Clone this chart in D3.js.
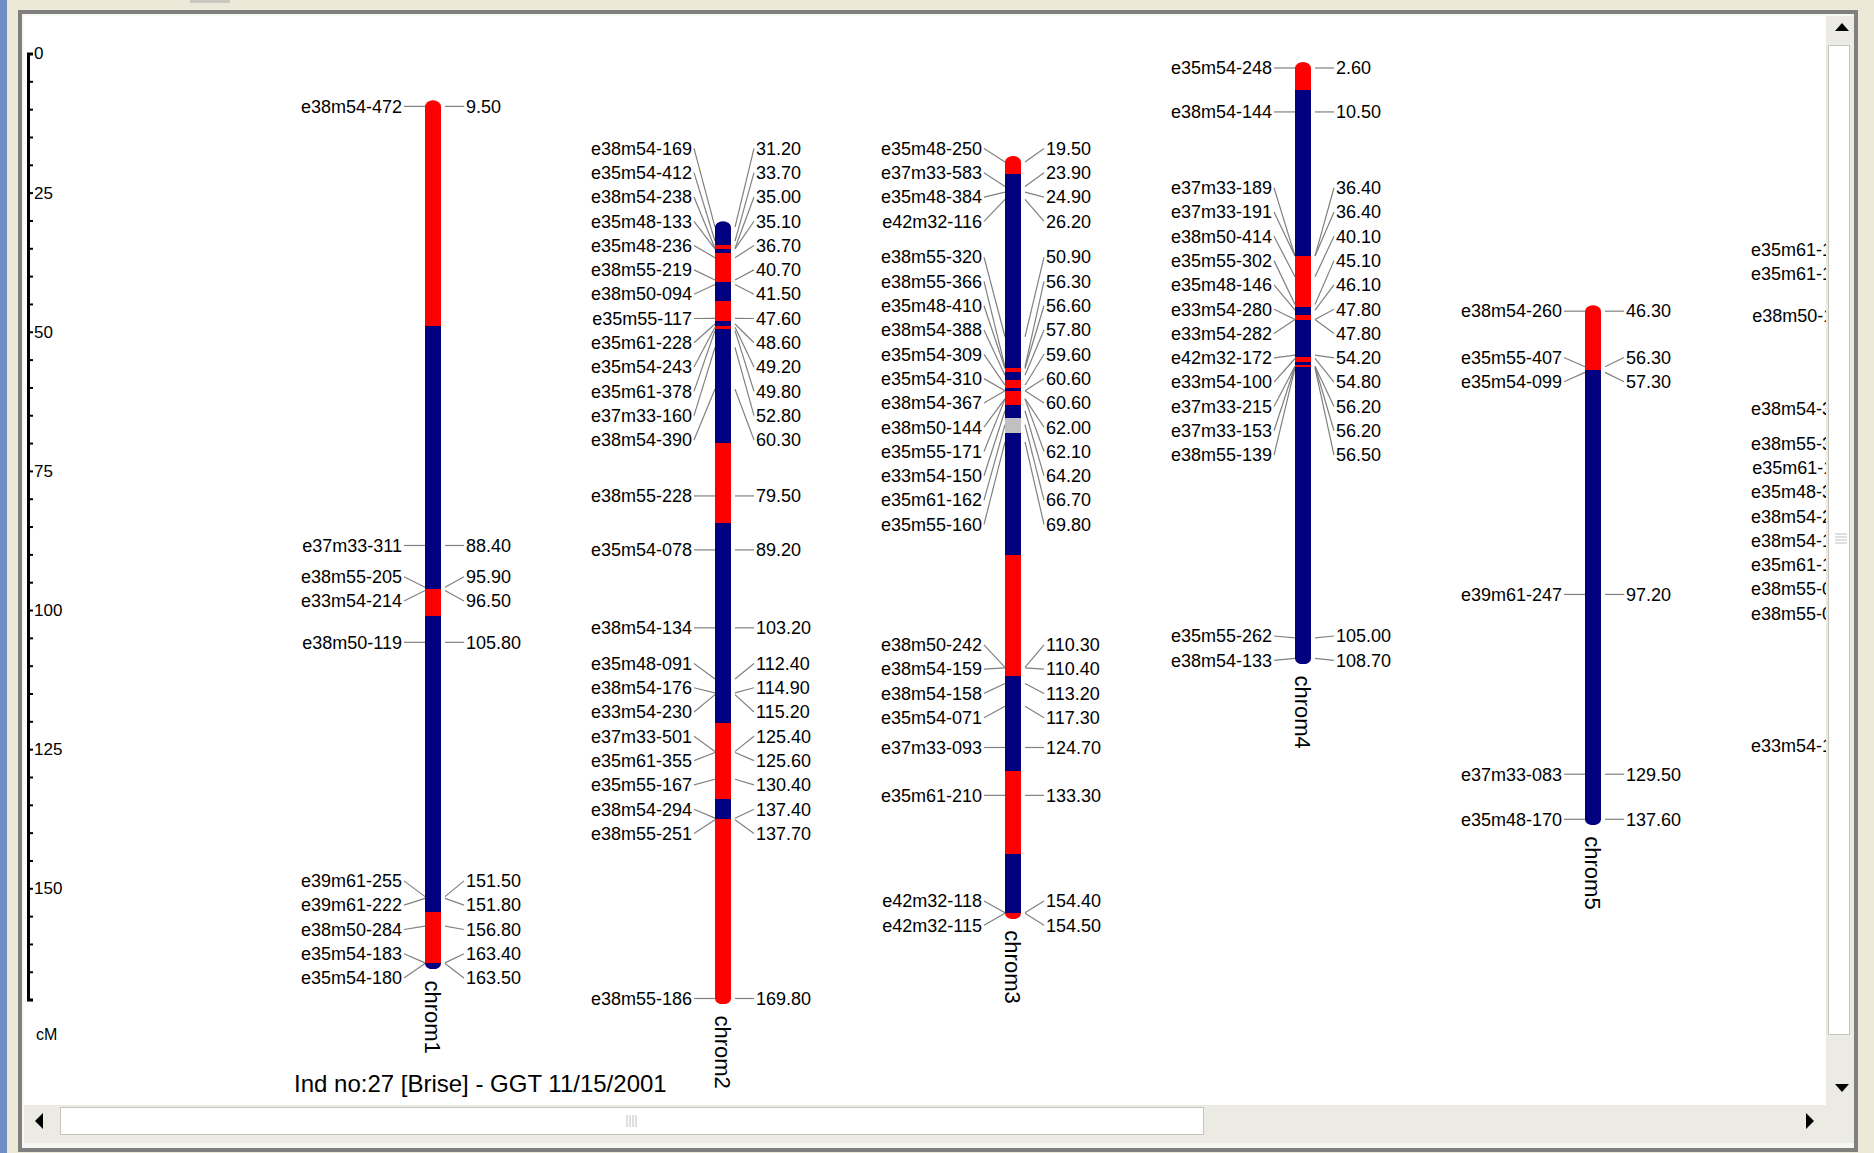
<!DOCTYPE html>
<html>
<head>
<meta charset="utf-8">
<script src="https://cdn.jsdelivr.net/npm/d3@7/dist/d3.min.js"></script>
<style>
  html, body { margin: 0; padding: 0; background: #ece9d8; }
  svg { display: block; font-family: "Liberation Sans", Arial, sans-serif; }
</style>
</head>
<body>
<svg id="chart" width="1874" height="1153"></svg>
<script>
// chromosomes shown left to right
const chromNames = ['chrom1', 'chrom2', 'chrom3', 'chrom4', 'chrom5', 'chrom6']

// marker names / positions (cM) / genotype (A = red, B = blue, - = missing)
const chrom1Names = ['e38m54-472', 'e37m33-311', 'e38m55-205', 'e33m54-214', 'e38m50-119',
  'e39m61-255', 'e39m61-222', 'e38m50-284', 'e35m54-183', 'e35m54-180']
const chrom1Pos = [9.5, 88.4, 95.9, 96.5, 105.8, 151.5, 151.8, 156.8, 163.4, 163.5]
const chrom1Geno = ['A', 'B', 'B', 'A', 'B', 'B', 'B', 'A', 'A', 'B']

const chrom2Names = ['e38m54-169', 'e35m54-412', 'e38m54-238', 'e35m48-133', 'e35m48-236',
  'e38m55-219', 'e38m50-094', 'e35m55-117', 'e35m61-228', 'e35m54-243', 'e35m61-378',
  'e37m33-160', 'e38m54-390', 'e38m55-228', 'e35m54-078', 'e38m54-134', 'e35m48-091',
  'e38m54-176', 'e33m54-230', 'e37m33-501', 'e35m61-355', 'e35m55-167', 'e38m54-294',
  'e38m55-251', 'e38m55-186']
const chrom2Pos = [31.2, 33.7, 35.0, 35.1, 36.7, 40.7, 41.5, 47.6, 48.6, 49.2, 49.8, 52.8, 60.3,
  79.5, 89.2, 103.2, 112.4, 114.9, 115.2, 125.4, 125.6, 130.4, 137.4, 137.7, 169.8]
const chrom2Geno = ['B', 'B', 'A', 'B', 'A', 'A', 'B', 'A', 'B', 'A', 'B', 'B', 'B',
  'A', 'B', 'B', 'B', 'B', 'B', 'A', 'A', 'A', 'B', 'A', 'A']

const chrom3Names = ['e35m48-250', 'e37m33-583', 'e35m48-384', 'e42m32-116', 'e38m55-320',
  'e38m55-366', 'e35m48-410', 'e38m54-388', 'e35m54-309', 'e35m54-310', 'e38m54-367',
  'e38m50-144', 'e35m55-171', 'e33m54-150', 'e35m61-162', 'e35m55-160', 'e38m50-242',
  'e38m54-159', 'e38m54-158', 'e35m54-071', 'e37m33-093', 'e35m61-210', 'e42m32-118',
  'e42m32-115']
const chrom3Pos = [19.5, 23.9, 24.9, 26.2, 50.9, 56.3, 56.6, 57.8, 59.6, 60.6, 60.6, 62.0, 62.1,
  64.2, 66.7, 69.8, 110.3, 110.4, 113.2, 117.3, 124.7, 133.3, 154.4, 154.5]
const chrom3Geno = ['A', 'B', 'B', 'B', 'B', 'B', 'A', 'B', 'A', 'B', 'A', 'A', 'A',
  'B', '-', 'B', 'A', 'A', 'B', 'B', 'B', 'A', 'B', 'A']

const chrom4Names = ['e35m54-248', 'e38m54-144', 'e37m33-189', 'e37m33-191', 'e38m50-414',
  'e35m55-302', 'e35m48-146', 'e33m54-280', 'e33m54-282', 'e42m32-172', 'e33m54-100',
  'e37m33-215', 'e37m33-153', 'e38m55-139', 'e35m55-262', 'e38m54-133']
const chrom4Pos = [2.6, 10.5, 36.4, 36.4, 40.1, 45.1, 46.1, 47.8, 47.8, 54.2, 54.8, 56.2, 56.2,
  56.5, 105.0, 108.7]
const chrom4Geno = ['A', 'B', 'B', 'A', 'A', 'A', 'B', 'A', 'B', 'B', 'A', 'B', 'A', 'B', 'B', 'B']

const chrom5Names = ['e38m54-260', 'e35m55-407', 'e35m54-099', 'e39m61-247', 'e37m33-083', 'e35m48-170']
const chrom5Pos = [46.3, 56.3, 57.3, 97.2, 129.5, 137.6]
const chrom5Geno = ['A', 'A', 'B', 'B', 'B', 'B']

// chrom6 runs off the right edge of the view, only the name column shows
const chrom6Names = ['e35m61-142', 'e35m61-165', 'e38m50-118', 'e38m54-322', 'e38m55-337',
  'e35m61-118', 'e35m48-324', 'e38m54-236', 'e38m54-127', 'e35m61-139', 'e38m55-062',
  'e38m55-065', 'e33m54-141']
const chrom6Pos = [36.8, 38.0, 47.1, 63.8, 80.6, 82.0, 83.6, 85.0, 86.2, 87.3, 88.4, 89.5, 124.4]
const chrom6Geno = ['B', 'B', 'B', 'B', 'B', 'B', 'B', 'B', 'B', 'B', 'B', 'B', 'B']

const axisTicks = d3.range(0, 171, 5)
const caption = 'Ind no:27 [Brise] - GGT 11/15/2001'

const chroms = [
  { name: chromNames[0], names: chrom1Names, pos: chrom1Pos, geno: chrom1Geno },
  { name: chromNames[1], names: chrom2Names, pos: chrom2Pos, geno: chrom2Geno },
  { name: chromNames[2], names: chrom3Names, pos: chrom3Pos, geno: chrom3Geno },
  { name: chromNames[3], names: chrom4Names, pos: chrom4Pos, geno: chrom4Geno },
  { name: chromNames[4], names: chrom5Names, pos: chrom5Pos, geno: chrom5Geno },
  { name: chromNames[5], names: chrom6Names, pos: chrom6Pos, geno: chrom6Geno }
]

const genoColor = { A: '#ff0000', B: '#000080', '-': '#c0c0c0' }

const W = 1874, H = 1153
const panel = { x0: 24, y0: 16, x1: 1826, y1: 1105 }
const svg = d3.select('#chart')

// ---- window chrome ----
svg.append('rect').attr('width', W).attr('height', H).attr('fill', '#ece9d8')
svg.append('rect').attr('x', 0).attr('y', 0).attr('width', 7).attr('height', H).attr('fill', '#6f8ec6')
svg.append('rect').attr('x', 190).attr('y', 0).attr('width', 40).attr('height', 3).attr('fill', '#c8c8c0')
svg.append('rect').attr('x', 20).attr('y', 12).attr('width', 1836).attr('height', 1138)
  .attr('fill', '#f6f6f3').attr('stroke', '#7f7f7f').attr('stroke-width', 4)
svg.append('rect').attr('x', panel.x0).attr('y', panel.y0)
  .attr('width', panel.x1 - panel.x0).attr('height', panel.y1 - panel.y0).attr('fill', '#fff')

// vertical scrollbar
const vs = svg.append('g')
vs.append('rect').attr('x', 1826).attr('y', panel.y0).attr('width', 28).attr('height', 1127).attr('fill', '#ebeae3')
vs.append('rect').attr('x', 1828.5).attr('y', 45.5).attr('width', 21).attr('height', 989)
  .attr('fill', '#fff').attr('stroke', '#c4c4bc')
vs.append('path').attr('d', 'M1835,31 L1849,31 L1842,23 Z').attr('fill', '#000')
vs.append('path').attr('d', 'M1835,1084 L1849,1084 L1842,1092 Z').attr('fill', '#000')
vs.selectAll('.grip').data([0, 1, 2, 3]).enter().append('line')
  .attr('x1', 1835).attr('x2', 1847)
  .attr('y1', d => 534 + d * 3).attr('y2', d => 534 + d * 3)
  .attr('stroke', '#c0c0c0')

// horizontal scrollbar
const hs = svg.append('g')
hs.append('rect').attr('x', panel.x0).attr('y', panel.y1).attr('width', 1802).attr('height', 38).attr('fill', '#ebeae3')
hs.append('rect').attr('x', 60.5).attr('y', 1107.5).attr('width', 1143).attr('height', 27)
  .attr('fill', '#fff').attr('stroke', '#c4c4bc')
hs.append('path').attr('d', 'M43,1113 L43,1129 L35,1121 Z').attr('fill', '#000')
hs.append('path').attr('d', 'M1806,1113 L1806,1129 L1814,1121 Z').attr('fill', '#000')
hs.selectAll('.grip').data([0, 1, 2, 3]).enter().append('line')
  .attr('y1', 1115).attr('y2', 1127)
  .attr('x1', d => 627 + d * 3).attr('x2', d => 627 + d * 3)
  .attr('stroke', '#c0c0c0')

// ---- plot ----
svg.append('clipPath').attr('id', 'panelClip').append('rect')
  .attr('x', panel.x0).attr('y', panel.y0)
  .attr('width', panel.x1 - panel.x0).attr('height', panel.y1 - panel.y0)
const plot = svg.append('g').attr('clip-path', 'url(#panelClip)')

const y = d3.scaleLinear().domain([0, 170]).range([53.5, 999.6])
const x = d3.scalePoint().domain(chromNames).range([433, 1883])

// cM scale bar
const axisG = plot.append('g')
  .attr('transform', 'translate(28,0)')
  .call(d3.axisRight(y).tickValues(axisTicks).tickSize(5).tickSizeOuter(5).tickPadding(1)
    .tickFormat(d => d % 25 === 0 ? d : ''))
axisG.select('.domain').attr('stroke', '#000').attr('stroke-width', 3)
axisG.selectAll('.tick line').attr('stroke', '#000').attr('stroke-width', 2)
axisG.selectAll('.tick text').attr('font-size', 17).attr('fill', '#000')
  .attr('font-family', '"Liberation Sans", Arial, sans-serif')
plot.append('text').attr('x', 36).attr('y', 1034).attr('dy', '0.35em')
  .attr('font-size', 16).text('cM')

// spread labels so they do not overlap: overlapping groups are centred on the mean marker position
function spreadLabels(ideal, h) {
  const groups = []
  ideal.forEach((v, i) => {
    groups.push({ sum: v, n: 1 })
    while (groups.length > 1) {
      const c = groups[groups.length - 1], p = groups[groups.length - 2]
      const cTop = c.sum / c.n - (c.n - 1) * h / 2
      const pBot = p.sum / p.n + (p.n - 1) * h / 2
      if (cTop - pBot < h) {
        p.sum += c.sum
        p.n += c.n
        groups.pop()
      } else break
    }
  })
  const out = []
  groups.forEach(g => {
    const top = g.sum / g.n - (g.n - 1) * h / 2
    for (let k = 0; k < g.n; k++) out.push(top + k * h)
  })
  return out
}

const barW = 16, cap = 6
chroms.forEach((c, ci) => {
  const cx = x(c.name)
  const g = plot.append('g').attr('class', 'chrom')
  const ys = c.pos.map(p => y(p))
  const labelY = spreadLabels(ys, 24.3)
  const n = c.pos.length

  // connector lines
  g.selectAll('.lconn').data(c.pos).enter().append('line')
    .attr('x1', cx - 29).attr('y1', (d, i) => labelY[i])
    .attr('x2', cx - barW / 2).attr('y2', (d, i) => ys[i])
    .attr('stroke', '#808080').attr('stroke-width', 1.2)
  g.selectAll('.rconn').data(c.pos).enter().append('line')
    .attr('x1', cx + 12).attr('y1', (d, i) => ys[i])
    .attr('x2', cx + 31).attr('y2', (d, i) => labelY[i])
    .attr('stroke', '#808080').attr('stroke-width', 1.2)

  // bar: colour changes half way between neighbouring markers, equal runs merged
  const segs = []
  c.pos.forEach((p, i) => {
    const top = i === 0 ? ys[0] - cap : y((c.pos[i - 1] + p) / 2)
    const bot = i === n - 1 ? ys[n - 1] + cap : y((p + c.pos[i + 1]) / 2)
    const last = segs[segs.length - 1]
    if (last && last.geno === c.geno[i]) last.bot = bot
    else segs.push({ top, bot, geno: c.geno[i] })
  })
  const clipId = 'barClip' + ci
  g.append('clipPath').attr('id', clipId).append('rect')
    .attr('x', cx - barW / 2).attr('y', ys[0] - cap)
    .attr('width', barW).attr('height', ys[n - 1] - ys[0] + 2 * cap)
    .attr('rx', barW / 2).attr('ry', cap)
  g.append('g').attr('clip-path', 'url(#' + clipId + ')')
    .selectAll('rect').data(segs).enter().append('rect')
    .attr('x', cx - barW / 2).attr('width', barW)
    .attr('y', d => d.bot - d.top < 2.5 ? (d.top + d.bot) / 2 - 1.25 : d.top)
    .attr('height', d => Math.max(2.5, d.bot - d.top))
    .attr('shape-rendering', 'crispEdges')
    .attr('fill', d => genoColor[d.geno])

  // marker names (left) and positions (right)
  g.selectAll('.mname').data(c.names).enter().append('text')
    .attr('x', cx - 31).attr('y', (d, i) => labelY[i]).attr('dy', '0.35em')
    .attr('text-anchor', 'end').attr('font-size', 18).attr('fill', '#000')
    .text(d => d)
  g.selectAll('.mpos').data(c.pos).enter().append('text')
    .attr('x', cx + 33).attr('y', (d, i) => labelY[i]).attr('dy', '0.35em')
    .attr('font-size', 18).attr('fill', '#000')
    .text(d => d.toFixed(2))

  // chromosome title, rotated below the bar
  g.append('text')
    .attr('transform', 'translate(' + cx + ',' + (ys[n - 1] + 17) + ') rotate(90)')
    .attr('dy', '0.35em').attr('font-size', 22).attr('fill', '#000')
    .text(c.name)
})

plot.append('text').attr('x', 294).attr('y', 1092).attr('font-size', 24).attr('fill', '#000')
  .text(caption)
</script>
</body>
</html>
